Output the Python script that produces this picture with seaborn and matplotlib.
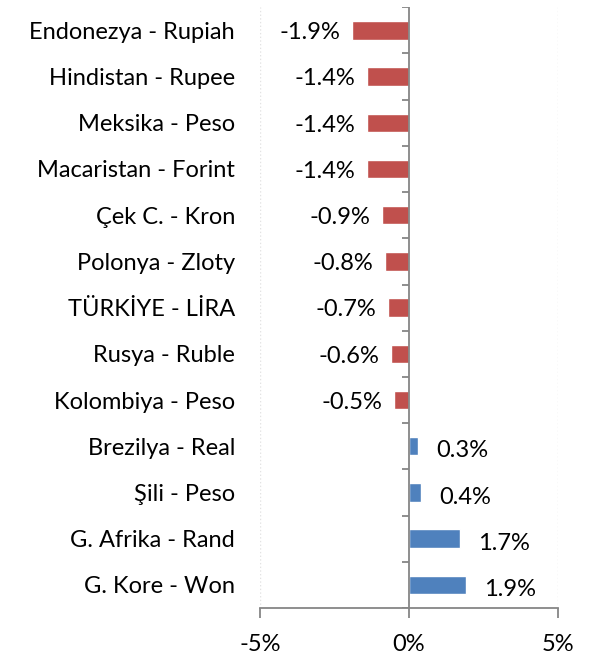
import numpy as np
import pandas as pd
import matplotlib
matplotlib.use("Agg")
import matplotlib.pyplot as plt
import seaborn as sns

# Data
currencies = [
    "Endonezya - Rupiah", "Hindistan - Rupee", "Meksika - Peso",
    "Macaristan - Forint", "Çek C. - Kron", "Polonya - Zloty",
    "TÜRKİYE - LİRA", "Rusya - Ruble", "Kolombiya - Peso",
    "Brezilya - Real", "Şili - Peso", "G. Afrika - Rand", "G. Kore - Won",
]
changes = [-1.9, -1.4, -1.4, -1.4, -0.9, -0.8, -0.7, -0.6, -0.5, 0.3, 0.4, 1.7, 1.9]
x_ticks = [-5, 0, 5]
x_tick_labels = ["-5%", "0%", "5%"]

RED = "#C0504D"
BLUE = "#4F81BD"
AXIS = "#868686"
FS = 17

sns.set_theme(style="white")
plt.rcParams["font.family"] = ["Lato", "DejaVu Sans"]

df = pd.DataFrame({"currency": currencies, "change": changes})
df["sign"] = np.where(df["change"] < 0, "neg", "pos")

fig = plt.figure(figsize=(5.9, 6.58), dpi=100)
ax = fig.add_axes([0.4407, 0.076, 0.5051, 0.913])

sns.barplot(data=df, y="currency", x="change", hue="sign",
            palette={"neg": RED, "pos": BLUE}, order=currencies,
            orient="h", width=0.4, dodge=False, legend=False, ax=ax,
            saturation=1)

ax.set_xlim(-5, 5)
ax.set_ylim(len(currencies) - 0.5, -0.5)
ax.set_xlabel("")
ax.set_ylabel("")

# x axis
ax.set_xticks(x_ticks)
ax.set_xticklabels(x_tick_labels, fontsize=FS, color="black")
ax.tick_params(axis="x", direction="out", length=7, width=1.3,
               color=AXIS, pad=12, bottom=True)
for s in ["top", "right", "left"]:
    ax.spines[s].set_visible(False)
ax.spines["bottom"].set_color(AXIS)
ax.spines["bottom"].set_linewidth(1.3)

# faint dotted grid at ±5
for xv in [-5, 5]:
    ax.axvline(xv, color="#E3E3E3", linestyle=":", linewidth=1, zorder=0)

# y axis: category labels on left, axis line at zero
ax.tick_params(axis="y", length=0, pad=18, labelsize=FS, labelcolor="black")
ax.axvline(0, color=AXIS, linewidth=1.3, zorder=3)
bounds = np.arange(-0.5, len(currencies) + 0.5, 1)
ax.hlines(bounds, -0.24, 0, color=AXIS, linewidth=1.3, zorder=3)

# value labels
for i, v in enumerate(changes):
    if v < 0:
        ax.text(v - 0.4, i + 0.05, f"{v:.1f}%", ha="right", va="center",
                fontsize=FS, color="black")
    else:
        ax.text(v + 0.6, i + 0.1, f"{v:.1f}%", ha="left", va="center",
                fontsize=FS, color="black")

fig.savefig("out.png", dpi=100)
